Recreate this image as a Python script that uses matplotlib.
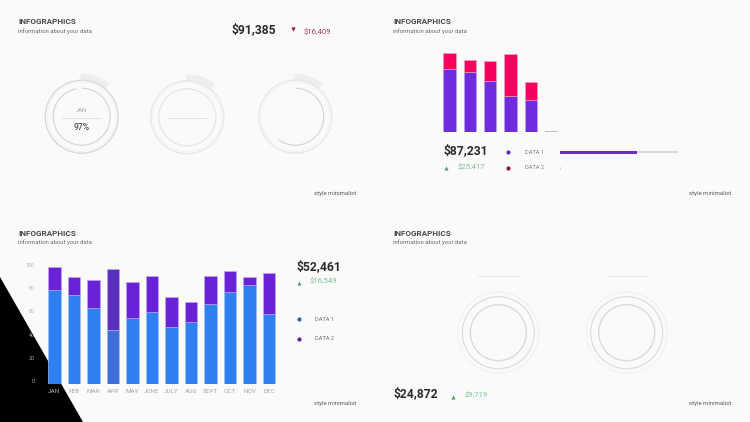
import matplotlib
matplotlib.use("Agg")
import matplotlib.pyplot as plt
from matplotlib.patches import Arc, Circle, Polygon, Wedge

W, H = 750, 422
plt.rcParams["font.family"] = ["Roboto", "DejaVu Sans"]

# monthly chart, bottom left
months = ["JAN", "FEB", "MAR", "APR", "MAY", "JUNE", "JULY", "AUG", "SEPT", "OCT", "NOV", "DEC"]
month_data1 = [80.6, 76.3, 65.1, 46.3, 57.1, 62.3, 49.4, 53.1, 68.6, 79.1, 85.1, 60.6]
month_data2 = [20.3, 15.7, 24.6, 52.6, 30.6, 30.6, 25.2, 17.8, 24.3, 17.8, 6.9, 35.1]
month_ticks = [0, 20, 40, 60, 80, 100]

# small chart, top right
small_data1 = [62.3, 59.7, 51.0, 36.0, 31.7, 0]
small_data2 = [16.7, 12.0, 19.3, 41.3, 17.6, 0]
data1_share = 65

# gauges
gauge_pct = [97, 0, 60]

BLUE = "#2f7ff0"
PURPLE = "#6f2be0"
PINK = "#f5005f"
GREEN = "#7cc49a"
DARK = "#2b2b2b"
RING = "#e6e6e6"

fig = plt.figure(figsize=(W / 100, H / 100), dpi=100, facecolor="#fafafa")
bg = fig.add_axes([0, 0, 1, 1], zorder=0)
bg.set_xlim(0, W)
bg.set_ylim(H, 0)
bg.axis("off")


def px_axes(left, top, right, bottom):
    ax = fig.add_axes([left / W, 1 - bottom / H, (right - left) / W, (bottom - top) / H], zorder=2)
    ax.patch.set_alpha(0)
    for s in ax.spines.values():
        s.set_visible(False)
    return ax


def label(x, y, s, size, color=DARK, **kw):
    kw.setdefault("va", "center")
    kw.setdefault("ha", "left")
    bg.text(x, y, s, fontsize=size, color=color, **kw)


def tri(x, y, color, up=True):
    bg.plot([x], [y], marker="^" if up else "v", ms=3, color=color, mew=0)


def dot(x, y, color):
    bg.plot([x], [y], marker="o", ms=3, color=color, mew=0)


# black corner goes under the chart
bg.add_patch(Polygon([(0, 277), (83, 422), (0, 422)], closed=True, color="black", lw=0))

for ox, oy in [(0, 0), (375, 0), (0, 211), (375, 211)]:
    label(ox + 18, oy + 22, "INFOGRAPHICS", 5.9, "#4a4a4a", fontweight="bold")
    label(ox + 18, oy + 31, "information about your data", 4.3, "#6a6a6a")
    label(ox + 356, oy + 193, "style minimalist", 4.3, "#5a5a5a", ha="right")

# gauges top left
centers = [(81.7, 116.7), (187.3, 117.3), (295.3, 116.7)]
for (cx, cy), pct in zip(centers, gauge_pct):
    bg.add_patch(Wedge((cx, cy), 43, -92, -50, width=7, color="#eeeeee", lw=0))
    bg.add_patch(Circle((cx, cy), 36.5, fill=False, ec=RING, lw=0.9))
    bg.add_patch(Circle((cx, cy), 34.5, fill=False, ec="#efefef", lw=0.5))
    if pct:
        bg.add_patch(Arc((cx, cy), 57, 57, angle=-90, theta1=0, theta2=pct * 3.6, ec="#d4d4d4", lw=0.8))
    else:
        bg.add_patch(Circle((cx, cy), 28.5, fill=False, ec=RING, lw=0.9))
bg.add_patch(Circle(centers[0], 36.5, fill=False, ec="#d2d4dc", lw=0.6))
label(81, 110, "JAN", 4.2, "#a5a5a5", ha="center")
bg.plot([62, 100], [117.5, 117.5], color="#dddddd", lw=0.6)
bg.plot([168, 206], [117.5, 117.5], color="#dddddd", lw=0.6)
label(81.5, 127.7, "97%", 6.2, "#555555", ha="center", fontweight="medium")

label(232, 30, "$91,385", 8.7, DARK, fontweight="bold")
tri(293, 29, "#8a1538", up=False)
label(304, 31.5, "$16,409", 5.6, "#a8405f")

# small stacked bars top right
ax = px_axes(439.3, 40, 566, 131.7)
xs = list(range(len(small_data1)))
ax.bar(xs[:5], small_data1[:5], width=0.605, color=PURPLE, edgecolor="#b9a2ef", lw=0.4)
ax.bar(xs[:5], small_data2[:5], width=0.605, bottom=small_data1[:5], color=PINK, edgecolor="#f9a3c2", lw=0.4)
ax.set_xlim(-0.5, 5.73)
ax.set_ylim(0, 91.7)
ax.set_xticks([])
ax.set_yticks([])
bg.plot([545, 557], [131.3, 131.3], color="#bdbdbd", lw=0.7)

label(443.3, 150.3, "$87,231", 8.7, DARK, fontweight="bold")
tri(445.7, 168, "#4f9f72")
label(457.7, 166.7, "$25,417", 5.6, GREEN)
dot(508.3, 152.3, "#5a2bb8")
dot(508.3, 167.7, "#8a1044")
label(525, 152.3, "DATA 1", 4.1, "#808080")
label(525, 167.7, "DATA 2", 4.1, "#808080")
bg.plot([560.3, 560.3], [166.5, 169], color="#cccccc", lw=0.5)

share = px_axes(560.3, 150.5, 678.3, 154)
share.barh([0], [100], height=0.6, color="#d8d8d8")
share.barh([0], [data1_share], height=1.0, color="#6a2bcf")
share.set_xlim(0, 100)
share.set_ylim(-0.5, 0.5)
share.set_xticks([])
share.set_yticks([])

# monthly stacked bars bottom left
ax = px_axes(44, 255, 285, 384.3)
xs = list(range(len(months)))
blues = [BLUE] * 12
purples = ["#6a22d8"] * 12
blues[3] = "#3f6fd6"
purples[3] = "#5b2fbe"
ax.bar(xs, month_data1, width=0.64, color=blues, edgecolor="#9cc2f8", lw=0.5)
ax.bar(xs, month_data2, width=0.64, bottom=month_data1, color=purples, edgecolor="#c3a8f2", lw=0.4)
ax.set_xlim(-0.538, 11.82)
ax.set_ylim(0, 110.8)
ax.set_xticks(xs, months)
ax.set_yticks(month_ticks, [str(t) for t in month_ticks])
ax.tick_params(axis="x", length=0, pad=3.5, labelsize=4.6, labelcolor="#a8a8a8")
ax.tick_params(axis="y", length=0, pad=7, labelsize=3.8, labelcolor="#b0b0b0")
for t in ax.get_yticklabels():
    t.set_va("bottom")

label(296.7, 267, "$52,461", 8.7, DARK, fontweight="bold")
tri(298.7, 282.7, "#4f9f72")
label(310, 281, "$16,549", 5.6, GREEN)
dot(298.7, 319.3, "#2f5fa8")
dot(298.7, 338.5, "#5a1f9a")
label(315, 319.3, "DATA 1", 4.1, "#707070")
label(315, 338.5, "DATA 2", 4.1, "#707070")

# rings bottom right
for cx, cy in [(498.3, 332.7), (626.7, 332.7)]:
    bg.add_patch(Circle((cx, cy), 40.5, fill=False, ec="#ececec", lw=0.5))
    bg.add_patch(Circle((cx, cy), 36, fill=False, ec="#d6d6d6", lw=0.7))
    bg.add_patch(Circle((cx, cy), 28, fill=False, ec="#dadada", lw=1.0))
bg.plot([478, 517.7], [275.7, 275.7], color="#e2e2e2", lw=0.6)
bg.plot([607.7, 645.7], [275.7, 275.7], color="#e2e2e2", lw=0.6)

label(393, 394, "$24,872", 8.7, DARK, fontweight="bold")
tri(453.3, 396.7, "#4f9f72")
label(464.3, 395, "$9,719", 5.6, GREEN)

fig.savefig("out.png", dpi=100, facecolor=fig.get_facecolor())
